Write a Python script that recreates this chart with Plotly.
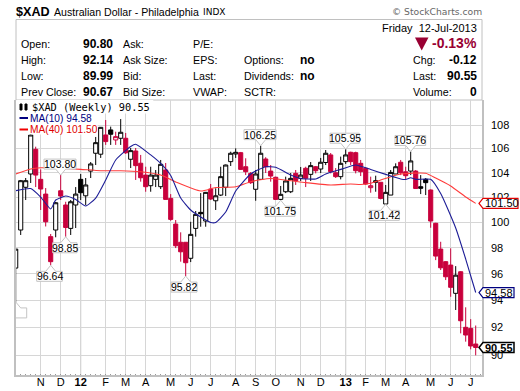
import math
import plotly.graph_objects as go

# Weekly candles, oldest first (index = week number on the chart)
opens = [96.43,99.38,102.80,103.89,105.94,103.45,102.25,98.86,99.38,102.52,101.37,99.51,101.37,103.45,102.11,104.13,105.61,105.53,107.15,107.58,106.73,106.87,106.87,105.11,105.80,104.78,103.80,102.93,103.45,102.85,104.22,101.90,99.85,98.42,98.42,97.18,99.51,100.78,100.09,102.66,101.71,102.17,102.80,104.91,105.55,105.66,104.49,103.94,102.64,103.45,105.13,104.13,103.62,101.82,102.44,102.44,103.94,103.53,104.36,103.86,104.49,104.30,104.84,105.47,103.99,103.67,104.91,105.69,105.66,104.77,104.36,102.77,103.34,103.21,101.45,102.17,103.89,104.86,104.07,104.13,104.13,102.85,103.45,102.58,99.91,97.89,96.92,96.66,94.52,96.15,92.01,91.93,90.80]
highs = [97.89,103.40,103.56,107.30,106.16,104.27,102.74,99.07,101.61,103.80,101.63,101.77,102.82,103.89,103.56,104.88,106.98,107.83,108.43,107.86,107.43,108.51,107.32,106.05,106.05,105.47,104.49,104.49,104.22,105.05,104.80,102.25,100.17,99.20,98.42,100.03,100.89,102.33,102.42,103.07,102.72,104.49,104.67,105.74,106.02,105.72,105.19,104.05,104.22,106.25,105.28,104.63,103.67,102.91,103.67,103.97,104.22,104.47,104.49,104.88,104.55,105.22,105.88,105.63,104.38,105.33,105.95,105.74,105.74,105.05,104.44,103.67,103.75,103.21,102.99,104.22,104.77,105.05,104.49,105.76,104.22,103.80,103.56,102.62,99.95,98.46,96.97,97.95,96.58,96.20,93.48,92.61,92.14]
lows = [93.88,98.99,101.77,103.15,102.82,100.97,99.66,96.64,98.81,101.77,98.85,98.99,99.54,101.77,101.37,103.56,104.63,105.22,106.31,106.31,106.31,106.31,105.55,104.38,103.40,103.26,102.44,102.44,102.82,102.66,101.82,100.11,97.97,96.92,95.82,96.89,98.86,99.64,99.64,101.77,100.97,102.09,102.09,104.55,105.22,104.22,103.80,103.07,101.71,103.40,103.97,103.26,101.77,101.75,102.33,102.33,102.99,103.32,102.82,103.32,103.94,103.97,104.63,103.94,103.56,103.45,104.72,104.63,103.94,103.72,102.99,102.36,102.44,101.82,101.42,102.17,103.89,103.80,103.48,103.80,102.70,102.25,102.17,99.56,97.04,96.28,95.52,94.26,93.28,91.57,90.97,90.42,89.99]
closes = [97.89,103.34,103.34,107.15,103.80,102.66,100.03,96.92,101.55,102.09,99.58,101.63,102.25,102.36,102.99,104.72,106.50,107.80,106.59,107.21,107.01,107.38,105.65,105.83,104.58,103.58,102.85,103.80,103.80,104.69,101.82,100.22,98.15,97.68,96.84,99.04,100.62,100.67,102.39,101.85,102.11,103.67,104.63,105.61,105.69,104.27,104.08,103.18,103.89,105.61,104.49,103.72,101.82,102.23,103.32,103.53,103.34,103.80,103.54,104.58,104.16,104.86,105.61,104.08,103.67,104.77,105.47,104.91,104.16,104.08,103.07,102.93,103.21,101.90,102.39,104.02,104.49,103.99,103.75,104.97,102.70,102.72,103.18,100.09,97.35,96.45,95.77,94.97,95.89,92.49,91.45,90.66,90.55]
forced_red = [9]

ma10_x = [0,3,5,7,8,10,12,14,16,18,20,23,24,27,29,31,33,35,37,39,40,42,44,47,50,52,55,57,60,62,65,68,71,74,77,78,79,80,83,85,88,90,92]
ma10_y = [102.52,102.70,102.01,101.05,101.77,102.09,101.81,101.29,101.93,103.40,105.05,106.18,106.37,105.47,104.76,103.76,101.93,100.97,100.41,99.98,99.98,100.81,102.50,103.89,104.49,104.44,103.80,103.52,103.48,103.89,104.27,104.63,104.26,103.86,103.48,103.44,103.58,103.45,103.45,102.29,99.54,97.12,94.58]
ma40_x = [0,3,5,9,13,17,21,25,29,32,37,40,44,47,51,58,63,67,69,71,73,77,82,84,87,90,92]
ma40_y = [103.89,104.30,104.40,104.36,104.27,104.16,104.16,104.07,103.80,103.24,102.50,102.78,102.85,103.26,103.52,103.18,102.99,103.07,103.03,103.13,103.40,103.89,103.95,103.56,102.91,102.01,101.50]

month_ticks = [5,9,13,18,22,26,31,35,39,44,48,52,57,61,66,70,74,78,83,87,91]
month_labels = ["N","D","<b>12</b>","F","M","A","M","J","J","A","S","O","N","D","<b>13</b>","F","M","A","M","J","J"]
year_ticks = [13,66]
price_ticks = [90,92,94,96,98,100,102,104,106,108]

# Callouts: week, price, box left/right offset from the tip in px, side
call_week = [0,7,10,9,34,49,53,66,79,74]
call_val = [93.88,96.64,98.85,103.80,95.82,106.25,101.75,105.95,105.76,101.42]
call_dx0 = [-14,-14,-13,-16.7,-14.7,-16.7,-15.7,-15.7,-15.7,-16.4]
call_dx1 = [11,11.6,11.3,15.3,11.3,15.3,14.3,13.6,15,13.6]
call_above = [False,False,False,True,False,True,False,True,True,False]

last_ma10, last_ma40, last_close = 94.58, 101.50, 90.55

LEFT, RIGHT, TOP, BOTTOM = 16, 482, 100, 375
W, H = 520, 391
def px(x): return (x - LEFT) / (RIGHT - LEFT)
def py(y): return (BOTTOM - y) / (BOTTOM - TOP)

RED = "#c8003c"
DARKRED = "#990033"
NAVY = "#1c1c96"
MARED = "#ff3b3b"
FRAME = "#c0c0c0"
GRID = "#d6d6d6"
SANS = "Liberation Sans"

red_idx, black_idx = [], []
for i in range(len(closes)):
    is_red = i in forced_red or (i > 0 and closes[i] < closes[i-1])
    (red_idx if is_red else black_idx).append(i)

def pick(a, idx): return [a[i] for i in idx]

fig = go.Figure()
def candle(idx, col):
    fig.add_trace(go.Candlestick(
        x=idx, open=pick(opens, idx), high=pick(highs, idx), low=pick(lows, idx), close=pick(closes, idx),
        increasing=dict(line=dict(color=col, width=1), fillcolor="white"),
        decreasing=dict(line=dict(color=col, width=1), fillcolor=col),
        whiskerwidth=0, showlegend=False, hoverinfo="skip"))
candle(black_idx, "black")
candle(red_idx, RED)
fig.add_trace(go.Scatter(x=ma40_x, y=ma40_y, mode="lines", line=dict(color=MARED, width=1.1, shape="spline", smoothing=0.5), showlegend=False, hoverinfo="skip"))
fig.add_trace(go.Scatter(x=ma10_x, y=ma10_y, mode="lines", line=dict(color=NAVY, width=1.1, shape="spline", smoothing=0.5), showlegend=False, hoverinfo="skip"))

shapes, ann = [], []

def text(x, y, s, size=10.7, color="black", anchor="left", font=SANS, bold=False):
    ann.append(dict(xref="paper", yref="paper", x=px(x), y=py(y), text=f"<b>{s}</b>" if bold else s,
                    showarrow=False, xanchor=anchor, yanchor="middle", borderpad=0, borderwidth=0,
                    font=dict(family=font, size=size, color=color)))

def rect(x0, y0, x1, y1, line=FRAME, fill=None, layer="above", w=1):
    shapes.append(dict(type="rect", xref="paper", yref="paper", x0=px(x0), x1=px(x1), y0=py(y0), y1=py(y1),
                       line=dict(color=line, width=w), fillcolor=fill, layer=layer))

# year gridlines, slightly darker
for t in year_ticks:
    shapes.append(dict(type="line", xref="x", yref="paper", x0=t, x1=t, y0=0, y1=1,
                       line=dict(color="#bcbcbc", width=1), layer="below"))

# header frame
rect(LEFT, 19.5, RIGHT, TOP, fill="white", layer="below")

# white panels behind the chart legend
rect(LEFT+0.5, TOP+0.5, 153, 113, line="white", fill="white")
rect(LEFT+0.5, 113, 97, 134, line="white", fill="white")

# callouts
for wk, v, d0, d1, up in zip(call_week, call_val, call_dx0, call_dx1, call_above):
    s = 1 if up else -1
    a, b = 6 * s, 16 * s
    path = f"M{d0},{a} L-5,{a} L0,0 L5,{a} L{d1},{a} L{d1},{b} L{d0},{b} Z"
    shapes.append(dict(type="path", xref="x", yref="y", xsizemode="pixel", ysizemode="pixel",
                       xanchor=wk, yanchor=v, path=path, fillcolor="white",
                       line=dict(color="#c4c4c4", width=1), layer="above"))
    ann.append(dict(xref="x", yref="y", x=wk, y=math.log10(v), text=f"{v:.2f}", showarrow=False,
                    xshift=(d0 + d1) / 2, yshift=11 * s, xanchor="center", yanchor="middle",
                    borderpad=0, font=dict(family=SANS, size=10.5, color="black")))

# right-hand value tags
for v, col, bold in [(last_ma40, "#e00000", False), (last_ma10, "#000080", False), (last_close, "black", True)]:
    right = 36 if v == last_ma40 else 32
    shapes.append(dict(type="path", xref="paper", yref="y", xsizemode="pixel", ysizemode="pixel",
                       xanchor=1, yanchor=v, path=f"M-3,0 L1,5 L{right},5 L{right},-5 L1,-5 Z",
                       fillcolor="white", line=dict(color=col, width=1.2 if not bold else 1.5), layer="above"))
    ann.append(dict(xref="paper", yref="y", x=px(RIGHT + 2), y=math.log10(v), text=f"<b>{v:.2f}</b>" if bold else f"{v:.2f}",
                    showarrow=False, xanchor="left", yanchor="middle", borderpad=0,
                    font=dict(family=SANS, size=11, color="black")))

# header text
text(16, 11.5, "$XAD", size=12.6, bold=True)
text(53.5, 11.5, "Australian Dollar - Philadelphia", size=10.6)
text(203, 12, "INDX", size=9, font="DejaVu Sans")
text(482, 12, "© StockCharts.com", size=9.2, color="#666666", anchor="right", font="DejaVu Sans")

rows = [44.5, 60, 76, 92]
col1 = ["Open:", "High:", "Low:", "Prev Close:"]
val1 = ["90.80", "92.14", "89.99", "90.67"]
col2 = ["Ask:", "Ask Size:", "Bid:", "Bid Size:"]
col3 = ["P/E:", "EPS:", "Last:", "VWAP:"]
for y, a, b, c, d in zip(rows, col1, val1, col2, col3):
    text(20.5, y, a)
    text(112.5, y, b, size=12, anchor="right", bold=True)
    text(123, y, c)
    text(193, y, d)
text(244, 60, "Options:")
text(244, 76, "Dividends:")
text(244, 92, "SCTR:")
text(300, 60, "no", size=12, bold=True)
text(300, 76, "no", size=12, bold=True)
text(476.5, 28, "Friday&nbsp;&nbsp;12-Jul-2013", size=11, anchor="right")
text(476.5, 43.5, "-0.13%", size=14, color=DARKRED, anchor="right", bold=True)
shapes.append(dict(type="path", xref="paper", yref="paper",
                   path=f"M{px(415)},{py(37.5)} L{px(428.5)},{py(37.5)} L{px(421.7)},{py(50.5)} Z",
                   fillcolor=DARKRED, line=dict(width=0), layer="above"))
text(413, 60, "Chg:")
text(476.5, 60, "-0.12", size=12, anchor="right", bold=True)
text(413, 76, "Last:")
text(476.5, 76, "90.55", size=12, anchor="right", bold=True)
text(413, 92, "Volume:")
text(476.5, 92, "0", size=12, anchor="right", bold=True)

# chart legend
text(31.5, 107.5, "$XAD (Weekly) 90.55", size=10.3, font="DejaVu Sans Mono")
text(29.5, 118, "MA(10) 94.58", size=10.2, color="#000080")
text(29.5, 129.5, "MA(40) 101.50", size=10.2, color="#e00000")
for (x0, x1, y0, y1) in [(20, 22, 104, 110), (25, 27, 104, 110)]:
    rect(x0, y0, x1, y1, line="black", fill="black")
shapes.append(dict(type="line", xref="paper", yref="paper", x0=px(19.5), x1=px(28), y0=py(118), y1=py(118), line=dict(color="#000080", width=2), layer="above"))
shapes.append(dict(type="line", xref="paper", yref="paper", x0=px(19.5), x1=px(28), y0=py(129.5), y1=py(129.5), line=dict(color="#f00000", width=2), layer="above"))

x0_week = (LEFT - 15.7) / 5
x1_week = (RIGHT - 15.7) / 5
fig.update_layout(
    width=W, height=H, autosize=False,
    margin=dict(l=LEFT, r=W-RIGHT, t=TOP, b=H-BOTTOM, pad=0, autoexpand=False),
    paper_bgcolor="white", plot_bgcolor="rgba(0,0,0,0)",
    boxgap=0.18, boxgroupgap=0, showlegend=False, shapes=shapes, annotations=ann,
    xaxis=dict(range=[x0_week, x1_week], tickmode="array", tickvals=month_ticks, ticktext=month_labels,
               showgrid=True, gridcolor=GRID, gridwidth=1, zeroline=False, showline=True, linecolor=FRAME, linewidth=1.5,
               ticks="", ticklabelstandoff=-4, tickangle=0,
               tickfont=dict(family=SANS, size=11, color="black"), rangeslider=dict(visible=False),
               minor=dict(dtick=1, tick0=0, ticks="inside", ticklen=1, tickcolor="#999999", showgrid=False)),
    yaxis=dict(type="log", side="right", range=[math.log10(88.6), math.log10(110.16)], tickmode="array",
               tickvals=price_ticks, ticktext=[str(t) for t in price_ticks],
               showgrid=True, gridcolor=GRID, gridwidth=1, zeroline=False, showline=True, linecolor=FRAME, linewidth=1.5,
               mirror=True, ticks="outside", ticklen=5, tickcolor="white",
               tickfont=dict(family=SANS, size=11, color="black")),
)
fig.write_html("out.html", post_script="document.body.style.margin='0';", config=dict(displayModeBar=False))
